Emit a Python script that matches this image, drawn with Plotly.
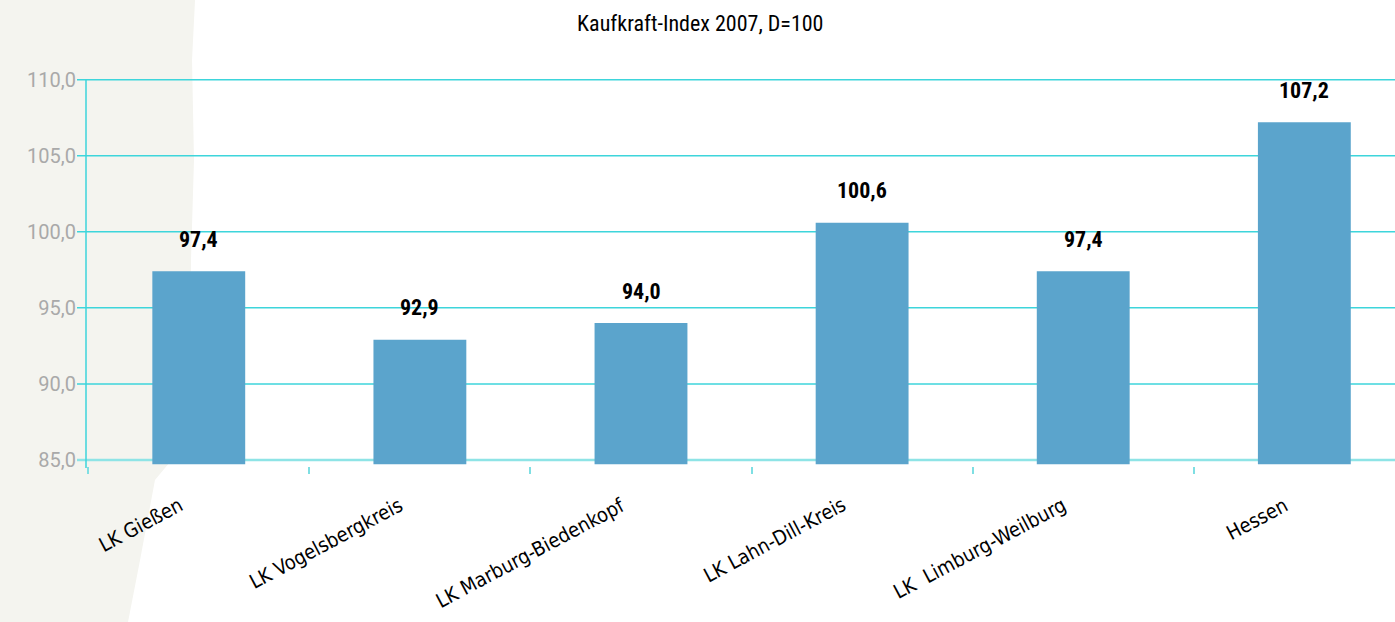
import plotly.graph_objects as go

categories = ["LK Gießen", "LK Vogelsbergkreis", "LK Marburg-Biedenkopf",
              "LK Lahn-Dill-Kreis", "LK  Limburg-Weilburg", "Hessen"]
values = [97.4, 92.9, 94.0, 100.6, 97.4, 107.2]
y_ticks = [85, 90, 95, 100, 105, 110]

W, H = 1395, 622
L, R, T, B = 86, 0, 79, 156
GRID = "#3dd5db"
BAR = "#5ba4cc"
base = 84.72
y_lo, y_hi = 84.6, 110.05


def px_x(px):
    return (px - L) / (W - L - R)


def px_y(py):
    return 1 - (py - T) / (H - T - B)


fig = go.Figure()
fig.add_trace(
    go.Bar(
        x=categories,
        y=[v - base for v in values],
        base=base,
        width=0.42,
        marker=dict(color=BAR, line=dict(width=0)),
        hoverinfo="skip",
    )
)
for c, v in zip(categories, values):
    fig.add_annotation(
        x=c, y=v, text=f"<b>{v:.1f}".replace(".", ",") + "</b>",
        showarrow=False, yshift=32,
        font=dict(family="Roboto Condensed, Liberation Sans Narrow, Arial", size=22, color="black"),
    )
    # category labels, rotated and hung below the axis
    fig.add_annotation(
        x=c, y=0, yref="paper", text=c, textangle=-28,
        showarrow=False, xanchor="right", yanchor="top", xshift=-10, yshift=-24,
        font=dict(family="DejaVu Sans Condensed, DejaVu Sans", size=20, color="black"),
    )

# grey paper texture on the left side
pts = [(0, 0), (195, 0), (192, 60), (194, 160), (191, 260), (190, 400), (180, 450),
       (155, 480), (140, 560), (128, 622), (0, 622)]
path = "M " + " L ".join(f"{px_x(x):.4f},{px_y(y):.4f}" for x, y in pts) + " Z"
fig.add_shape(type="path", path=path, xref="paper", yref="paper",
              fillcolor="#f4f4ef", line=dict(width=0), layer="below")

# gridlines (with the little tick stubs left of the axis) and the value axis line
for t in y_ticks:
    fig.add_shape(type="line", xref="paper", yref="y", x0=px_x(77), x1=1, y0=t, y1=t,
                  line=dict(color=GRID if t > 85 else "#8ee4e6", width=1.5 if t > 85 else 2.5),
                  layer="below")
fig.add_shape(type="line", xref="paper", yref="paper", x0=0, x1=0, y0=px_y(468), y1=1,
              line=dict(color=GRID, width=1.5), layer="below")

fig.update_layout(
    template="none",
    width=W, height=H,
    margin=dict(l=L, r=R, t=T, b=B, pad=0),
    plot_bgcolor="rgba(0,0,0,0)",
    paper_bgcolor="white",
    separators=",.",
    showlegend=False,
    title=dict(text="Kaufkraft-Index 2007, D=100", x=0.502, xref="container", y=0.963,
               yanchor="middle",
               font=dict(family="Roboto Condensed, Liberation Sans Narrow, Arial", size=22, color="black")),
    xaxis=dict(
        range=[-0.51, 5.41], showgrid=False, zeroline=False, showticklabels=False,
        tickson="boundaries", ticks="outside", ticklen=7, tickcolor="#7fdfe3", tickwidth=1.5,
        showline=False,
    ),
    yaxis=dict(
        range=[y_lo, y_hi], tickvals=y_ticks, tickformat=".1f",
        showgrid=False, zeroline=False, ticks="", showline=False,
        ticklabelstandoff=9,
        tickfont=dict(family="Roboto", size=20, color="#a9a9a9"),
    ),
)

fig.write_html("out.html", post_script="document.body.style.margin='0';",
               config={"displayModeBar": False})
